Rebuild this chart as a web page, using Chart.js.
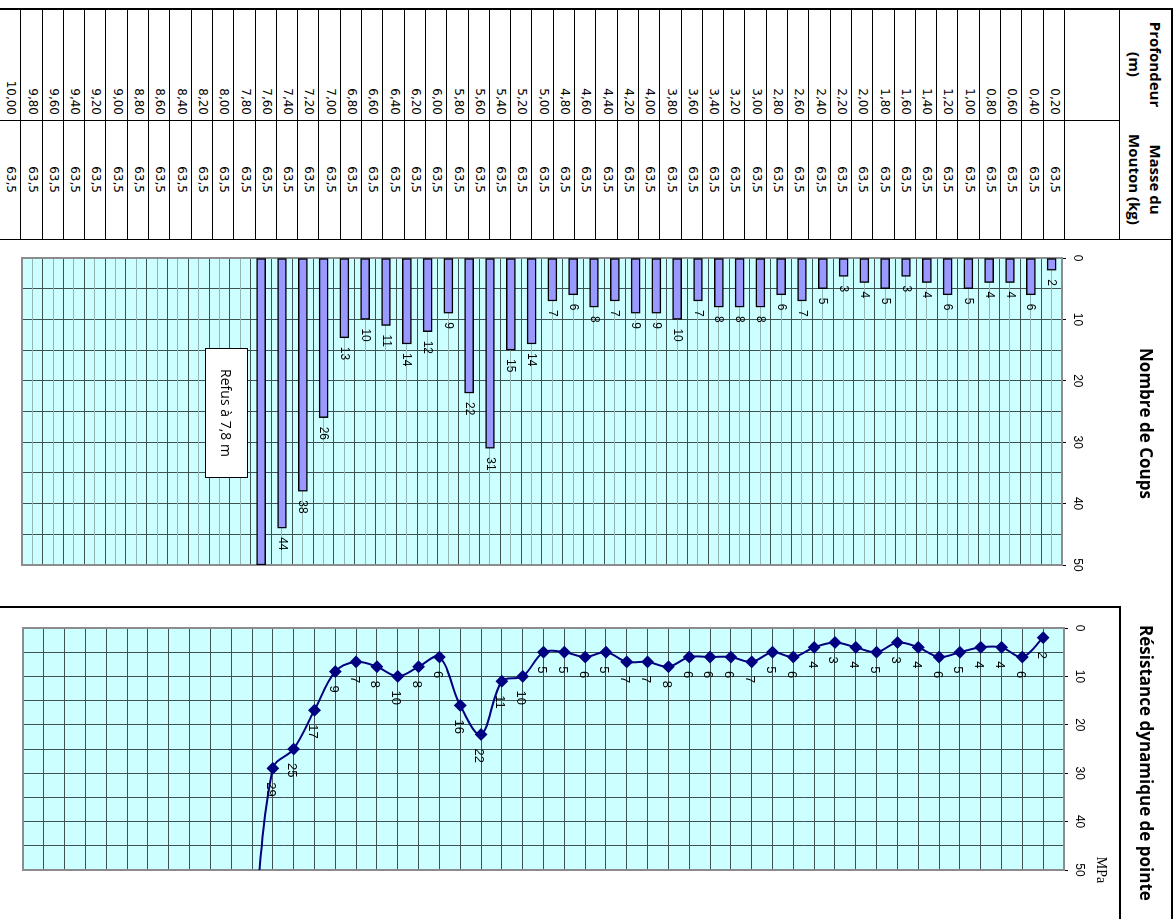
<!DOCTYPE html>
<html lang="fr">
<head>
<meta charset="utf-8">
<title>Pénétromètre dynamique</title>
<script src="https://cdn.jsdelivr.net/npm/chart.js@4.4.1/dist/chart.umd.min.js"></script>
<style>
  html, body { margin: 0; padding: 0; background: #fff; overflow: hidden; }
  /* the sheet is laid out portrait, then turned a quarter clockwise */
  #page {
    position: absolute; left: 0; top: 0; width: 919px; height: 1174px;
    transform-origin: 0 0; transform: translate(1174px, 0) rotate(90deg);
    font-family: 'DejaVu Sans', sans-serif; color: #000;
  }
  .ln { position: absolute; background: #000; }
  .cell { position: absolute; font-size: 12px; white-space: nowrap; }
  .head {
    position: absolute; display: flex; align-items: center; justify-content: center;
    font: bold 15px 'Open Sans', sans-serif; line-height: 21px; text-align: center;
  }
  canvas { position: absolute; }
  #refus {
    position: absolute; left: 348px; top: 926px; width: 128px; height: 41px;
    border: 1px solid #000; background: #fff;
    font: 14px 'Open Sans', sans-serif; line-height: 41px; text-align: center;
  }
</style>
</head>
<body>
<div id="page">
  <div id="table"></div>
  <canvas id="coupsChart" width="367" height="1172" style="left:240px; top:2px;"></canvas>
  <canvas id="rdChart" width="312" height="1172" style="left:607px; top:2px;"></canvas>
  <div id="refus">Refus à 7,8 m</div>
</div>
<script>
// profondeur (m)
const depths = [0.2, 0.4, 0.6, 0.8, 1.0, 1.2, 1.4, 1.6, 1.8, 2.0,
                2.2, 2.4, 2.6, 2.8, 3.0, 3.2, 3.4, 3.6, 3.8, 4.0,
                4.2, 4.4, 4.6, 4.8, 5.0, 5.2, 5.4, 5.6, 5.8, 6.0,
                6.2, 6.4, 6.6, 6.8, 7.0, 7.2, 7.4, 7.6, 7.8, 8.0,
                8.2, 8.4, 8.6, 8.8, 9.0, 9.2, 9.4, 9.6, 9.8, 10.0];
// masse du mouton (kg)
const masses = [63.5, 63.5, 63.5, 63.5, 63.5, 63.5, 63.5, 63.5, 63.5, 63.5,
                63.5, 63.5, 63.5, 63.5, 63.5, 63.5, 63.5, 63.5, 63.5, 63.5,
                63.5, 63.5, 63.5, 63.5, 63.5, 63.5, 63.5, 63.5, 63.5, 63.5,
                63.5, 63.5, 63.5, 63.5, 63.5, 63.5, 63.5, 63.5, 63.5, 63.5,
                63.5, 63.5, 63.5, 63.5, 63.5, 63.5, 63.5, 63.5, 63.5, 63.5];
// nombre de coups, 0,20 -> 7,80 (refus)
const coups = [2, 6, 4, 4, 5, 6, 4, 3, 5, 4,
               3, 5, 7, 6, 8, 8, 8, 7, 10, 9,
               9, 7, 8, 6, 7, 14, 15, 31, 22, 9,
               12, 14, 11, 10, 13, 26, 38, 44, 50];
// résistance dynamique de pointe (MPa), dernier point hors échelle
const resistance = [2, 6, 4, 4, 5, 6, 4, 3, 5, 4,
                    3, 4, 6, 5, 7, 6, 6, 6, 8, 7,
                    7, 5, 6, 5, 5, 10, 11, 22, 16, 6,
                    8, 10, 8, 7, 9, 17, 25, 29, 67];
const valueTicks = [0, 10, 20, 30, 40, 50];
const unitLabel = 'MPa';

const fr = (v, d) => v.toFixed(d).replace('.', ',');
const depthLabels = depths.map(d => fr(d, 2));

// ---- tableau ----
const table = document.getElementById('table');
function add(cls, css, html) {
  const el = document.createElement('div');
  el.className = cls;
  el.style.cssText = css;
  if (html) el.innerHTML = html;
  table.appendChild(el);
}
add('ln', 'left:8px; top:2px; width:2px; height:1172px;');
add('ln', 'left:8px; top:1px; width:911px; height:2px;');
add('ln', 'left:239px; top:2px; width:1px; height:1172px;');
add('ln', 'left:120px; top:54px; width:1px; height:1120px;');
add('ln', 'left:8px; top:54px; width:232px; height:1px;');
add('ln', 'left:606px; top:54px; width:2px; height:1120px;');
add('ln', 'left:606px; top:53px; width:313px; height:2px;');
add('head', 'left:9px; top:3px; width:111px; height:51px;', 'Profondeur<br>(m)');
add('head', 'left:120px; top:3px; width:119px; height:51px;', 'Masse du<br>Mouton (kg)');
const rowTop = 109, rowH = 21.3;
depths.forEach((d, i) => {
  const t = rowTop + i * rowH;
  add('ln', `left:8px; top:${Math.round(t)}px; width:232px; height:1px;`);
  add('cell', `left:9px; top:${t}px; width:106px; height:${rowH}px; line-height:${rowH}px; text-align:right;`, fr(d, 2));
  add('cell', `left:120px; top:${t}px; width:119px; height:${rowH}px; line-height:${rowH}px; text-align:center;`, fr(masses[i], 1));
});

// ---- plugins ----
const plotFrame = {
  id: 'plotFrame',
  beforeDraw(chart) {
    const a = chart.chartArea, ctx = chart.ctx;
    ctx.save();
    ctx.fillStyle = '#CCFFFF';
    ctx.fillRect(a.left, a.top, a.right - a.left, a.bottom - a.top);
    ctx.restore();
  },
  beforeDatasetsDraw(chart) {
    const a = chart.chartArea, ctx = chart.ctx;
    ctx.save();
    ctx.strokeStyle = '#8c8c8c';
    ctx.lineWidth = 2;
    ctx.strokeRect(a.left, a.top, a.right - a.left, a.bottom - a.top);
    ctx.restore();
  }
};

const valueLabels = {
  id: 'valueLabels',
  afterDatasetsDraw(chart, args, opts) {
    const ctx = chart.ctx;
    ctx.save();
    ctx.fillStyle = '#000';
    ctx.font = opts.font;
    ctx.textAlign = 'left';
    ctx.textBaseline = 'middle';
    chart.data.datasets.forEach((ds, di) => {
      chart.getDatasetMeta(di).data.forEach((el, i) => {
        const raw = ds.data[i];
        const v = typeof raw === 'object' ? raw.x : raw;
        if (v == null || v >= 50) return;
        ctx.fillText(String(v), el.x + opts.dx, el.y + opts.dy);
      });
    });
    ctx.restore();
  }
};

const unitText = {
  id: 'unitText',
  afterDraw(chart, args, opts) {
    if (!opts.text) return;
    const a = chart.chartArea, ctx = chart.ctx;
    ctx.save();
    ctx.fillStyle = '#000';
    ctx.font = "14px 'Liberation Serif', serif";
    ctx.textAlign = 'center';
    ctx.textBaseline = 'middle';
    ctx.fillText(opts.text, a.right, a.top - 37);
    ctx.restore();
  }
};

Chart.defaults.font.family = "'Liberation Sans', Arial, sans-serif";
Chart.defaults.font.size = 12;
Chart.defaults.color = '#000';

const gridDark = '#3e5252';
const titleFont = { family: "'Open Sans', sans-serif", size: 17, weight: 'bold' };
const valueAxis = (h) => ({
  type: 'linear', position: 'top', min: 0, max: 50,
  ticks: {
    stepSize: 5, autoSkip: false, padding: 4, maxRotation: 0,
    callback: v => valueTicks.includes(v) ? v : ''
  },
  grid: {
    color: gridDark, lineWidth: 1, tickLength: 4,
    tickColor: c => valueTicks.includes(c.tick && c.tick.value) ? '#000' : 'rgba(0,0,0,0)'
  },
  border: { display: false },
  afterFit: s => { s.height = h; }
});

// ---- Nombre de Coups ----
new Chart(document.getElementById('coupsChart'), {
  type: 'bar',
  data: {
    labels: depthLabels,
    datasets: [{
      label: 'Nombre de Coups',
      data: coups,
      backgroundColor: '#9999FF',
      borderColor: '#000',
      borderWidth: 1.5,
      borderSkipped: false,
      barThickness: 9
    }]
  },
  options: {
    indexAxis: 'y',
    responsive: false,
    animation: false,
    layout: { padding: { bottom: 22 } },
    scales: {
      x: valueAxis(22),
      y: {
        type: 'category', position: 'left', offset: true,
        ticks: { display: false },
        grid: { offset: true, color: gridDark, drawTicks: false },
        border: { display: false },
        afterFit: s => { s.width = 18; }
      },
      y2: {
        type: 'category', position: 'right', offset: true,
        ticks: { display: false },
        grid: { offset: false, color: '#94b4b4', drawTicks: false },
        border: { display: false },
        afterFit: s => { s.width = 42; }
      }
    },
    plugins: {
      legend: { display: false },
      tooltip: { enabled: false },
      title: {
        display: true, text: 'Nombre de Coups', font: titleFont, color: '#000',
        padding: { top: 17, bottom: 50.6 }
      },
      valueLabels: { dx: 9, dy: 0, font: "12px 'Liberation Sans', Arial, sans-serif" }
    }
  },
  plugins: [plotFrame, valueLabels]
});

// ---- Résistance dynamique de pointe ----
new Chart(document.getElementById('rdChart'), {
  type: 'line',
  data: {
    datasets: [{
      label: 'Résistance dynamique de pointe',
      data: resistance.map((r, i) => ({ x: r, y: depths[i] })),
      borderColor: '#000080',
      backgroundColor: '#000080',
      borderWidth: 2,
      pointStyle: 'rectRot',
      pointRadius: 5,
      pointHoverRadius: 5,
      tension: 0.35,
      fill: false
    }]
  },
  options: {
    indexAxis: 'y',
    responsive: false,
    animation: false,
    layout: { padding: { bottom: 23 } },
    scales: {
      x: valueAxis(70.6),
      y: {
        type: 'linear', position: 'left', min: 0, max: 10, reverse: true,
        ticks: { display: false, stepSize: 0.2 },
        grid: { color: gridDark, drawTicks: false },
        border: { display: false },
        afterFit: s => { s.width = 21; }
      },
      y2: {
        type: 'linear', position: 'right',
        ticks: { display: false },
        grid: { display: false, drawTicks: false },
        border: { display: false },
        afterFit: s => { s.width = 49; }
      }
    },
    plugins: {
      legend: { display: false },
      tooltip: { enabled: false },
      title: {
        display: true, text: 'Résistance dynamique de pointe', font: titleFont, color: '#000',
        padding: { top: 17, bottom: 0 }
      },
      valueLabels: { dx: 14, dy: 2, font: "13px 'Liberation Sans', Arial, sans-serif" },
      unitText: { text: unitLabel }
    }
  },
  plugins: [plotFrame, valueLabels, unitText]
});
</script>
</body>
</html>
